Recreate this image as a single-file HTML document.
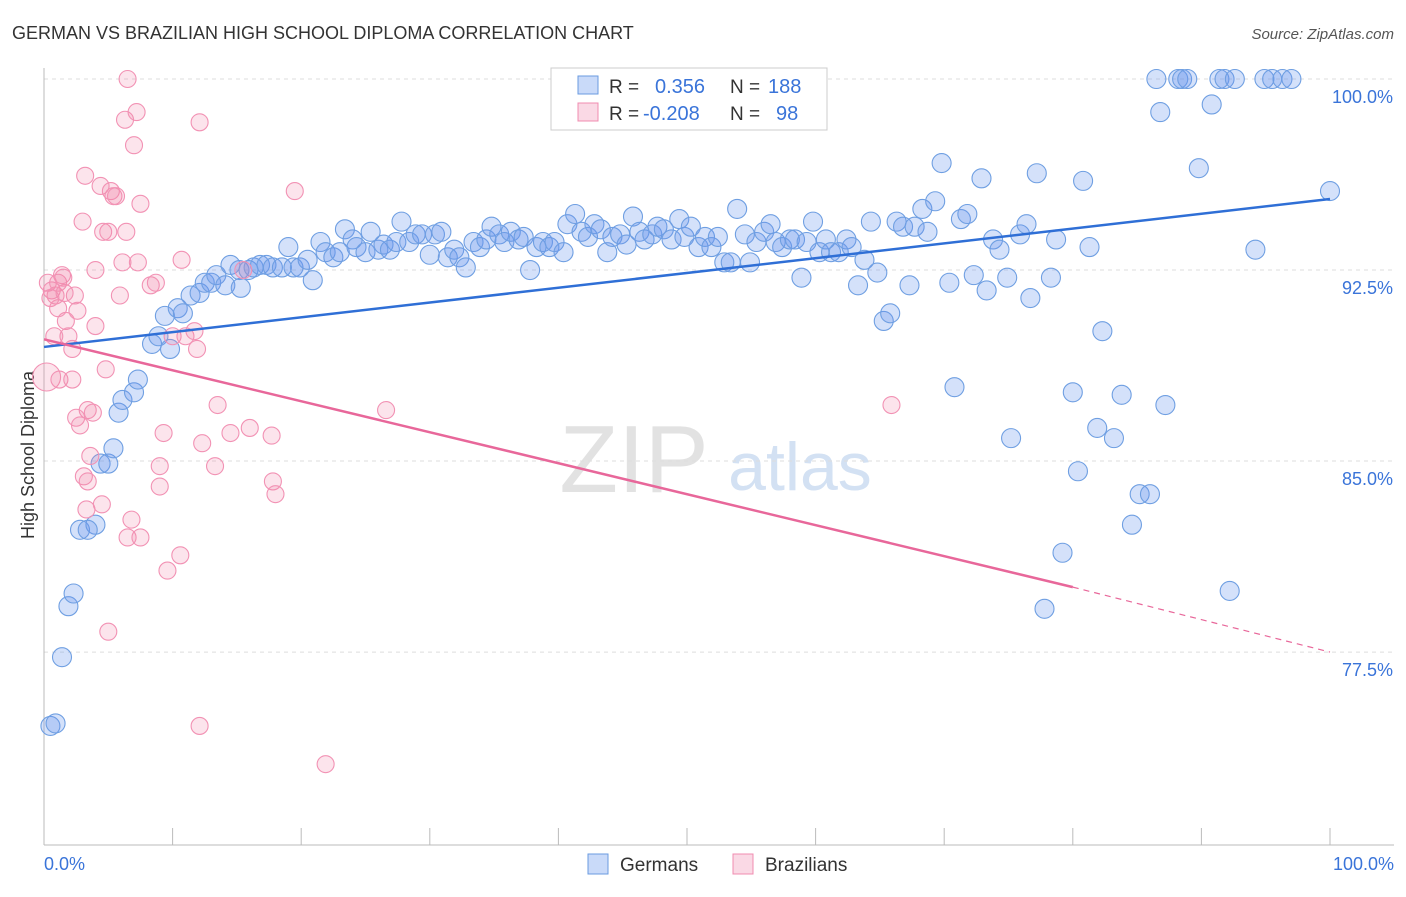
<!DOCTYPE html>
<html><head><meta charset="utf-8"><style>
body{margin:0;background:#fff;font-family:"Liberation Sans",sans-serif;}
svg text{font-family:"Liberation Sans",sans-serif;}
</style></head><body>
<svg id="c" width="1406" height="892">
<text x="12" y="39" font-size="18" fill="#333">GERMAN VS BRAZILIAN HIGH SCHOOL DIPLOMA CORRELATION CHART</text>
<text x="1394" y="39" font-size="15" fill="#555" text-anchor="end" font-style="italic">Source: ZipAtlas.com</text>
<text x="634" y="492" font-size="96" fill="#e2e2e2" text-anchor="middle" font-family="Liberation Serif">ZIP</text>
<text x="800" y="490" font-size="68" fill="#d3e1f3" text-anchor="middle">atlas</text>
<text transform="translate(34,455) rotate(-90)" font-size="18" fill="#333" text-anchor="middle">High School Diploma</text>
<g id="grid"></g><g id="pts"></g><g id="lines"></g>
<g>
<rect x="551" y="68" width="276" height="62" fill="#fff" stroke="#ccc"/>
<rect x="578" y="76" width="20" height="18" fill="rgba(100,149,237,0.35)" stroke="#6a9be0"/>
<rect x="578" y="103" width="20" height="18" fill="rgba(240,130,170,0.3)" stroke="#f08cb0"/>
<text x="609" y="93" font-size="19" fill="#333">R =</text><text x="655" y="93" font-size="20" fill="#3a74d9">0.356</text>
<text x="730" y="93" font-size="19" fill="#333">N =</text><text x="768" y="93" font-size="20" fill="#3a74d9">188</text>
<text x="609" y="120" font-size="19" fill="#333">R =</text><text x="643" y="120" font-size="20" fill="#3a74d9">-0.208</text>
<text x="730" y="120" font-size="19" fill="#333">N =</text><text x="776" y="120" font-size="20" fill="#3a74d9">98</text>
</g>
<g>
<rect x="588" y="854" width="20" height="20" fill="rgba(100,149,237,0.35)" stroke="#6a9be0"/>
<text x="620" y="871" font-size="19" fill="#333">Germans</text>
<rect x="733" y="854" width="20" height="20" fill="rgba(240,130,170,0.3)" stroke="#f08cb0"/>
<text x="765" y="871" font-size="19" fill="#333">Brazilians</text>
</g>
<text x="44" y="870" font-size="18" fill="#3a74d9">0.0%</text>
<text x="1394" y="870" font-size="18" fill="#3a74d9" text-anchor="end">100.0%</text>
</svg>
<script>
const yTicks=[100,92.5,85,77.5];
const yTickLabels=["100.0%","92.5%","85.0%","77.5%"];
const blueX=[0.5,0.9,1.4,1.9,2.3,2.8,4.0,3.4,4.4,5.0,5.4,5.8,6.1,7.0,7.3,8.4,8.9,9.8,9.4,10.4,10.8,11.4,12.1,12.5,13.0,13.4,14.1,14.5,15.3,15.2,15.9,16.3,16.8,17.3,17.8,18.5,19.0,19.4,19.9,20.5,20.9,21.5,21.9,22.5,23.0,23.4,24.0,24.3,25.0,25.4,26.0,26.4,26.9,27.4,27.8,28.4,28.9,29.4,30.0,30.4,30.9,31.4,31.9,32.3,32.8,33.4,33.9,34.4,34.8,35.4,35.8,36.3,36.9,37.3,37.8,38.3,38.8,39.3,39.7,40.4,40.7,41.3,41.8,42.3,42.8,43.3,43.8,44.2,44.8,45.3,45.8,46.3,46.7,47.3,47.7,48.2,48.8,49.4,49.8,50.3,50.9,51.4,51.9,52.4,52.9,53.4,53.9,54.5,54.9,55.4,56.0,56.5,56.9,57.4,58.0,58.4,58.9,59.3,59.8,60.3,60.8,61.2,61.8,62.4,62.8,63.3,63.8,64.3,64.8,65.3,65.8,66.3,66.8,67.3,67.7,68.3,68.7,69.3,69.8,70.4,70.8,71.3,71.8,72.3,72.9,73.3,73.8,74.3,74.9,75.2,75.9,76.4,76.7,77.2,77.8,78.3,78.7,79.2,80.0,80.4,80.8,81.3,81.9,82.3,83.2,83.8,84.6,85.2,86.0,86.5,86.8,87.2,88.2,88.5,88.9,89.8,90.8,91.4,91.8,92.2,92.6,94.2,94.9,95.5,96.3,97.0,100];
const blueY=[74.6,74.7,77.3,79.3,79.8,82.3,82.5,82.3,84.9,84.9,85.5,86.9,87.4,87.7,88.2,89.6,89.9,89.4,90.7,91.0,90.8,91.5,91.6,92.0,92.0,92.3,91.9,92.7,91.8,92.5,92.5,92.6,92.7,92.7,92.6,92.6,93.4,92.6,92.6,92.9,92.1,93.6,93.2,93.0,93.2,94.1,93.7,93.4,93.2,94.0,93.3,93.5,93.3,93.6,94.4,93.6,93.9,93.9,93.1,93.9,94.0,93.0,93.3,93.0,92.6,93.6,93.4,93.7,94.2,93.9,93.6,94.0,93.7,93.8,92.5,93.4,93.6,93.4,93.6,93.2,94.3,94.7,94.0,93.8,94.3,94.1,93.2,93.8,93.9,93.5,94.6,94.0,93.7,93.9,94.2,94.1,93.7,94.5,93.8,94.2,93.4,93.8,93.4,93.8,92.8,92.8,94.9,93.9,92.8,93.6,94.0,94.3,93.6,93.4,93.7,93.7,92.2,93.6,94.4,93.2,93.7,93.2,93.2,93.7,93.4,91.9,92.9,94.4,92.4,90.5,90.8,94.4,94.2,91.9,94.2,94.9,94.0,95.2,96.7,92.0,87.9,94.5,94.7,92.3,96.1,91.7,93.7,93.3,92.2,85.9,93.9,94.3,91.4,96.3,79.2,92.2,93.7,81.4,87.7,84.6,96.0,93.4,86.3,90.1,85.9,87.6,82.5,83.7,83.7,100,98.7,87.2,100,100,100,96.5,99.0,100,100,79.9,100,93.3,100,100,100,100,95.6];
const pinkX=[0.2,0.3,0.6,0.9,1.1,1.4,1.7,1.1,1.9,2.2,1.2,2.2,2.4,2.6,3.0,3.2,3.4,3.8,2.5,2.8,3.1,3.4,3.3,3.6,4.0,4.0,4.4,4.5,4.6,5.0,4.8,5.0,5.2,5.4,5.6,5.9,6.1,6.3,6.5,6.4,6.5,6.8,7.2,7.0,7.3,7.5,7.5,8.3,8.7,9.0,9.0,9.3,9.6,10.0,10.6,10.7,11.0,11.7,11.9,12.1,12.1,12.3,13.3,13.5,14.5,15.5,16.0,17.7,17.8,18.0,19.5,21.9,26.6,65.9,0.5,1.6,1.5,0.8];
const pinkY=[88.3,92.0,91.7,91.5,92.0,92.3,90.5,91.0,89.9,89.4,88.2,88.2,91.5,90.9,94.4,96.2,87.0,86.9,86.7,86.4,84.4,84.2,83.1,85.2,92.5,90.3,95.8,83.3,94.0,94.0,88.6,78.3,95.6,95.4,95.4,91.5,92.8,98.4,100,94.0,82.0,82.7,98.7,97.4,92.8,95.1,82.0,91.9,92.0,84.8,84.0,86.1,80.7,89.9,81.3,92.9,89.9,90.1,89.4,98.3,74.6,85.7,84.8,87.2,86.1,92.5,86.3,86.0,84.2,83.7,95.6,73.1,87.0,87.2,91.4,91.6,92.2,89.9];
const blueTrend=[[0,89.48],[100,95.29]];
const pinkTrend=[[0,89.78],[80,80.05],[100,77.5]];
const X=v=>44+v*12.86, Y=v=>79+(100-v)*25.47;
const NS="http://www.w3.org/2000/svg";
function mk(t,a,p){const e=document.createElementNS(NS,t);for(const k in a)e.setAttribute(k,a[k]);document.getElementById(p).appendChild(e);return e;}
yTicks.forEach((t,i)=>{
 const l=mk('line',{x1:44,x2:1394,y1:Y(t),y2:Y(t),stroke:'#ddd','stroke-dasharray':'4,4'},'grid');
 
 
 const tx=mk('text',{x:1393,y:Y(t)+24,'font-size':18,fill:'#3a74d9','text-anchor':'end'},'grid');
 tx.textContent=yTickLabels[i];
 
 
});
const xa=mk('line',{x1:44,x2:1394,y1:845,y2:845,stroke:'#bbb'},'grid');


const ya=mk('line',{x1:44,x2:44,y1:68,y2:845,stroke:'#bbb'},'grid');


for(let i=1;i<=10;i++){const t=mk('line',{x1:X(i*10),x2:X(i*10),y1:828,y2:845,stroke:'#bbb'},'grid');
 
 }
blueX.forEach((v,i)=>{const c=mk('circle',{cx:X(v),cy:Y(blueY[i]),r:9.5,fill:'rgba(100,149,237,0.28)',stroke:'#6f9fe2','stroke-width':1.1},'pts');
 
 });
pinkX.forEach((v,i)=>{const c=mk('circle',{cx:X(v),cy:Y(pinkY[i]),r:i==0?14:8.5,fill:'rgba(240,130,170,0.22)',stroke:'#f292b4','stroke-width':1.1},'pts');
 
 });
const bl=mk('line',{x1:X(blueTrend[0][0]),y1:Y(blueTrend[0][1]),x2:X(blueTrend[1][0]),y2:Y(blueTrend[1][1]),stroke:'#2f6fd6','stroke-width':2.5},'lines');


const pl=mk('line',{x1:X(pinkTrend[0][0]),y1:Y(pinkTrend[0][1]),x2:X(pinkTrend[1][0]),y2:Y(pinkTrend[1][1]),stroke:'#e8679a','stroke-width':2.5},'lines');


const pd=mk('line',{x1:X(pinkTrend[1][0]),y1:Y(pinkTrend[1][1]),x2:X(pinkTrend[2][0]),y2:Y(pinkTrend[2][1]),stroke:'#e8679a','stroke-width':1.2,'stroke-dasharray':'6,5'},'lines');


</script>
</body></html>
